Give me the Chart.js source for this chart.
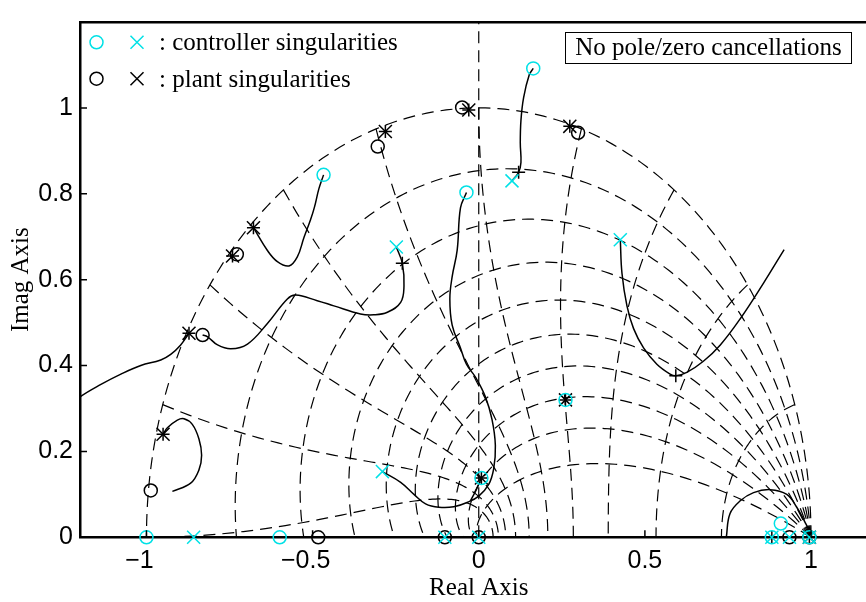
<!DOCTYPE html>
<html>
<head>
<meta charset="utf-8">
<script src="https://cdn.jsdelivr.net/npm/chart.js@4/dist/chart.umd.min.js"></script>
<style>
  html, body { margin: 0; padding: 0; background: #fff; overflow: hidden; width: 866px; height: 602px; }
  #wrap { position: relative; width: 866px; height: 602px; overflow: hidden; }
  canvas { display: block; }
</style>
</head>
<body>
<div id="wrap"><canvas id="rl" width="900" height="602"></canvas></div>
<script>
// Axis ticks
const xTicks = [-1, -0.5, 0, 0.5, 1];
const yTicks = [0, 0.2, 0.4, 0.6, 0.8, 1];

// z-plane grid: damping ratios and natural frequencies (in units of pi/T)
const dampingRatios = [0, 0.1, 0.2, 0.3, 0.4, 0.5, 0.6, 0.7, 0.8, 0.9];
const naturalFreqs = [0.1, 0.2, 0.3, 0.4, 0.5, 0.6, 0.7, 0.8, 0.9, 1.0];

// Open-loop singularities
const controllerZeros = [[0.164, 1.092], [-0.467, 0.844], [-0.037, 0.803], [-1.0, 0], [-0.599, 0],
  [0.008, 0.138], [0.261, 0.320], [0.909, 0.032], [0.882, 0], [0.995, 0]];
const controllerPoles = [[0.100, 0.830], [-0.248, 0.676], [0.426, 0.693], [-0.290, 0.153], [-0.858, 0],
  [-0.102, 0], [0.0, 0], [0.882, 0], [0.935, 0], [0.995, 0]];
const plantZeros = [[-0.050, 1.001], [0.299, 0.942], [-0.304, 0.910], [-0.728, 0.659], [-0.831, 0.471],
  [-0.987, 0.109], [-0.483, 0], [-0.102, 0], [0.0, 0], [0.935, 0], [0.995, 0]];
const plantPoles = [[-0.030, 0.995], [0.274, 0.957], [-0.281, 0.945], [-0.678, 0.721], [-0.741, 0.655],
  [-0.872, 0.475], [-0.950, 0.240], [0.008, 0.138], [0.261, 0.320], [0.995, 0]];
// Closed-loop poles at the design gain
const closedLoopPoles = [[0.120, 0.850], [-0.230, 0.638], [0.593, 0.376], [-0.030, 0.995], [0.274, 0.957],
  [-0.281, 0.945], [-0.678, 0.721], [-0.741, 0.655], [-0.872, 0.475], [-0.950, 0.240], [0.008, 0.138],
  [0.261, 0.320], [0.882, 0], [0.995, 0]];

// Root locus branches
const branchA = [[0.100, 0.830], [0.120, 0.850], [0.127, 0.873], [0.125, 0.918], [0.127, 0.971],
  [0.135, 1.024], [0.152, 1.077], [0.164, 1.092]];
const branchB = [[-0.678, 0.721], [-0.636, 0.668], [-0.606, 0.642], [-0.571, 0.632], [-0.546, 0.653],
  [-0.526, 0.698], [-0.506, 0.740], [-0.494, 0.770], [-0.481, 0.812], [-0.467, 0.844]];
const branchC = [[-0.831, 0.471], [-0.816, 0.467], [-0.786, 0.448], [-0.746, 0.439], [-0.696, 0.450],
  [-0.636, 0.498], [-0.576, 0.555], [-0.551, 0.564], [-0.486, 0.551], [-0.436, 0.539], [-0.356, 0.520],
  [-0.316, 0.518], [-0.275, 0.524], [-0.235, 0.547], [-0.225, 0.585], [-0.230, 0.638], [-0.248, 0.676]];
const branchD = [[-0.872, 0.475], [-0.897, 0.448], [-0.927, 0.426], [-0.957, 0.413], [-1.017, 0.400],
  [-1.077, 0.380], [-1.137, 0.356], [-1.200, 0.327], [-1.260, 0.290]];
const branchE = [[-0.950, 0.240], [-0.937, 0.255], [-0.907, 0.273], [-0.887, 0.276], [-0.862, 0.263],
  [-0.842, 0.229], [-0.834, 0.191], [-0.842, 0.157], [-0.867, 0.126], [-0.922, 0.107]];
const branchF = [[-0.037, 0.803], [-0.055, 0.767], [-0.065, 0.668], [-0.080, 0.607], [-0.087, 0.555],
  [-0.080, 0.494], [-0.055, 0.441], [-0.037, 0.403], [-0.010, 0.373], [0.020, 0.327], [0.040, 0.274],
  [0.050, 0.214], [0.045, 0.160], [0.030, 0.123], [0.000, 0.096], [-0.035, 0.081], [-0.075, 0.071],
  [-0.120, 0.070], [-0.160, 0.078], [-0.195, 0.100], [-0.235, 0.128], [-0.290, 0.153]];
const branchF2 = [[0.008, 0.138], [-0.008, 0.110], [-0.025, 0.085]];
const branchG = [[0.426, 0.693], [0.431, 0.615], [0.446, 0.539], [0.466, 0.486], [0.496, 0.441],
  [0.536, 0.403], [0.576, 0.380], [0.593, 0.376], [0.626, 0.384], [0.676, 0.410], [0.727, 0.448],
  [0.787, 0.509], [0.857, 0.592], [0.919, 0.670]];
const branchH = [[0.745, 0.000], [0.756, 0.055], [0.787, 0.085], [0.827, 0.104], [0.877, 0.111],
  [0.927, 0.100], [0.957, 0.070], [0.982, 0.035], [0.992, 0.020], [1.000, 0.005]];
const imagAxis = [[0, 0], [0, 1.2]];

const CYAN = 'rgb(0,225,230)';
const toPts = a => a.map(([x, y]) => ({ x, y }));

// Constant-damping spirals and constant-frequency curves of the z-plane grid
function dampingCurve(zeta) {
  const m = zeta / Math.sqrt(1 - zeta * zeta);
  const p = [];
  for (let k = 0; k <= 160; k++) {
    const th = Math.PI * k / 160, r = Math.exp(-m * th);
    p.push({ x: r * Math.cos(th), y: r * Math.sin(th) });
  }
  return p;
}
function frequencyCurve(f) {
  const w = f * Math.PI, p = [];
  for (let k = 0; k <= 100; k++) {
    const t = (Math.PI / 2) * k / 100, zeta = Math.sin(t);
    const r = Math.exp(-zeta * w), th = w * Math.cos(t);
    p.push({ x: r * Math.cos(th), y: r * Math.sin(th) });
  }
  return p;
}

const gridStyle = { showLine: true, borderColor: '#000', borderWidth: 1.2, borderDash: [12, 7],
  pointRadius: 0, tension: 0, order: 4 };
const lociStyle = { showLine: true, borderColor: '#000', borderWidth: 1.5, pointRadius: 0,
  tension: 0.4, order: 3 };
function markers(arr, style, color, radius, order) {
  return { data: toPts(arr), showLine: false, pointStyle: style, pointRadius: radius,
    pointBorderWidth: 1.5, pointBorderColor: color, pointBackgroundColor: 'rgba(0,0,0,0)',
    clip: false, order };
}

const datasets = [];
dampingRatios.forEach(z => datasets.push(Object.assign({ data: dampingCurve(z) }, gridStyle)));
naturalFreqs.forEach(f => datasets.push(Object.assign({ data: frequencyCurve(f) }, gridStyle)));
datasets.push(Object.assign({ data: toPts(imagAxis) }, gridStyle));
[branchA, branchB, branchC, branchD, branchE, branchF, branchF2, branchG, branchH]
  .forEach(b => datasets.push(Object.assign({ data: toPts(b) }, lociStyle)));
datasets.push(markers(plantZeros, 'circle', '#000', 6.5, 2));
datasets.push(markers(plantPoles, 'crossRot', '#000', 9.2, 2));
datasets.push(markers(closedLoopPoles, 'cross', '#000', 6.5, 2));
datasets.push(markers(controllerZeros, 'circle', CYAN, 6.5, 1));
datasets.push(markers(controllerPoles, 'crossRot', CYAN, 9.2, 1));

const tickFont = { family: "'Liberation Sans', Arial, sans-serif", size: 25 };
const serif = "'Liberation Serif', 'Times New Roman', serif";

// Inward tick marks on the left and bottom axes
const inwardTicks = {
  id: 'inwardTicks',
  afterDraw(chart) {
    const { ctx, chartArea: a, scales: { x, y } } = chart;
    ctx.save();
    ctx.strokeStyle = '#000';
    ctx.lineWidth = 1.5;
    ctx.beginPath();
    xTicks.forEach(v => { const px = x.getPixelForValue(v); ctx.moveTo(px, a.bottom); ctx.lineTo(px, a.bottom - 7); });
    yTicks.forEach(v => { const py = y.getPixelForValue(v); ctx.moveTo(a.left, py); ctx.lineTo(a.left + 7, py); });
    ctx.stroke();
    ctx.restore();
  }
};

// Marker key and the annotation box
const keyAndNote = {
  id: 'keyAndNote',
  afterDraw(chart) {
    const ctx = chart.ctx;
    const dp = Chart.helpers.drawPoint;
    ctx.save();
    const rows = [
      { y: 42.3, color: CYAN, text: ': controller singularities' },
      { y: 78.7, color: '#000', text: ': plant singularities' }
    ];
    rows.forEach(r => {
      ctx.strokeStyle = r.color; ctx.fillStyle = 'rgba(0,0,0,0)';
      ctx.lineWidth = 1.5;
      dp(ctx, { pointStyle: 'circle', radius: 6.5, borderWidth: 1.5 }, 96.5, r.y);
      ctx.strokeStyle = r.color;
      dp(ctx, { pointStyle: 'crossRot', radius: 9.2, borderWidth: 1.5 }, 137, r.y);
      ctx.fillStyle = '#000';
      ctx.font = '25px ' + serif;
      ctx.textAlign = 'left';
      ctx.textBaseline = 'alphabetic';
      ctx.fillText(r.text, 159, r.y + 8);
    });
    // note box
    ctx.strokeStyle = '#000';
    ctx.lineWidth = 1;
    ctx.strokeRect(565.5, 32.5, 286, 31);
    ctx.fillStyle = '#000';
    ctx.font = '25px ' + serif;
    ctx.textAlign = 'center';
    ctx.fillText('No pole/zero cancellations', 708.5, 55);
    ctx.restore();
  }
};

new Chart(document.getElementById('rl'), {
  type: 'scatter',
  data: { datasets },
  plugins: [inwardTicks, keyAndNote],
  options: {
    responsive: false,
    animation: false,
    events: [],
    layout: { padding: { top: 9, right: 22.5, left: 0, bottom: 0 } },
    plugins: { legend: { display: false }, tooltip: { enabled: false } },
    scales: {
      x: {
        type: 'linear', min: -1.2, max: 1.2, position: 'bottom',
        afterBuildTicks: s => { s.ticks = xTicks.map(v => ({ value: v })); },
        afterFit: s => { s.height = 64.7; },
        grid: { display: false, drawTicks: false },
        border: { display: true, color: '#000', width: 2.5 },
        ticks: {
          autoSkip: false, maxRotation: 0, padding: 9, color: '#000', font: tickFont,
          callback: v => v < 0 ? '\u2212' + String(-v) + '\u2007' : String(v)
        },
        title: { display: true, text: 'Real Axis', color: '#000',
          font: { family: serif, size: 25, lineHeight: 1.12 }, padding: { top: 0, bottom: 0 } }
      },
      xTop: {
        type: 'linear', min: -1.2, max: 1.2, position: 'top',
        afterFit: s => { s.height = 0; },
        grid: { display: false, drawTicks: false },
        border: { display: true, color: '#000', width: 2.5 },
        ticks: { display: false }
      },
      y: {
        type: 'linear', min: 0, max: 1.2, position: 'left',
        afterBuildTicks: s => { s.ticks = yTicks.map(v => ({ value: v })); },
        afterFit: s => { s.width = 80; },
        grid: { display: false, drawTicks: false },
        border: { display: true, color: '#000', width: 2.5 },
        ticks: { autoSkip: false, padding: 7, color: '#000', font: tickFont, callback: v => String(v) },
        title: { display: true, text: 'Imag Axis', color: '#000',
          font: { family: serif, size: 25, lineHeight: 1.2 }, padding: { top: 6.5, bottom: 0 } }
      }
    }
  }
});
</script>
</body>
</html>
